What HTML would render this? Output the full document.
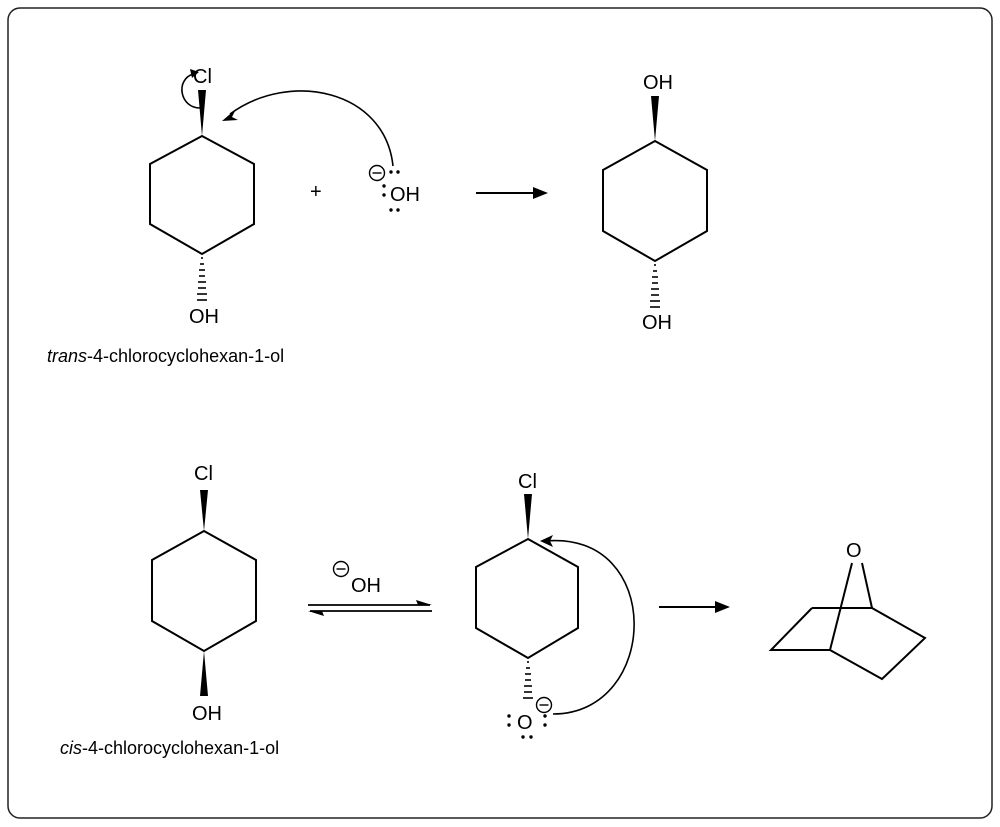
<!DOCTYPE html>
<html><head><style>
html,body{margin:0;padding:0;background:#fff;}
svg{display:block;}
text{font-family:"Liberation Sans",sans-serif;fill:#000;}
</style></head><body>
<svg width="1000" height="827" viewBox="0 0 1000 827">
<rect x="8" y="8" width="984" height="810" rx="12" fill="#fff" stroke="#222" stroke-width="1.5"/>
<g stroke="#000" stroke-width="2" fill="none" stroke-linejoin="miter">
<polygon points="202,136 254,164 254,224 202,254 150,224 150,164"/>
<polygon points="655,141 707,170 707,231 655,261 603,231 603,170"/>
<polygon points="204,531 256,560 256,621 204,651 152,621 152,560"/>
<polygon points="528,539 578,567 578,628 528,658 476,628 476,567"/>
<polyline points="812,608 872,608 925,638 882,679 830,650 771,650 812,608"/>
<line x1="852" y1="563" x2="830" y2="650"/>
<line x1="862" y1="563" x2="872" y2="608"/>
<line x1="476" y1="193" x2="535" y2="193"/>
<line x1="659" y1="607" x2="716" y2="607"/>
<line x1="308" y1="605" x2="430" y2="605" stroke-width="1.8"/>
<line x1="310" y1="611" x2="432" y2="611" stroke-width="1.8"/>
<path d="M393,166 C385,90 290,70 230,114" stroke-width="1.6"/>
<path d="M200,108 C180,108 175,80 193,74" stroke-width="1.6"/>
<path d="M553,714 C660,714 665,530 545,541" stroke-width="1.6"/>
</g>
<g fill="#000">
<polygon points="548,193 533,187 533,199"/>
<polygon points="730,607 715,601 715,613"/>
<polygon points="432,605 416,600 418,605"/>
<polygon points="308,611 324,616 322,611"/>
<polygon points="222,121 236,109 232,117 238,120"/>
<polygon points="199,72 190,69 192,78"/>
<polygon points="540,541 553,535 550,541 553,547"/>
<polygon points="202,136 198,90 206,90"/>
<polygon points="655,141 651,96 659,96"/>
<polygon points="204,531 200,490 208,490"/>
<polygon points="528,539 524,494 532,494"/>
<polygon points="204,651 200,696 208,696"/>
</g>
<g stroke="#000" stroke-width="1.6">
<line x1="201" y1="258" x2="203" y2="258"/><line x1="200" y1="264" x2="204" y2="264"/><line x1="199" y1="270" x2="205" y2="270"/><line x1="199" y1="276" x2="205" y2="276"/><line x1="198" y1="282" x2="206" y2="282"/><line x1="198" y1="288" x2="206" y2="288"/><line x1="197" y1="294" x2="207" y2="294"/><line x1="197" y1="300" x2="207" y2="300"/>
<line x1="654" y1="265" x2="656" y2="265"/><line x1="653" y1="271" x2="657" y2="271"/><line x1="652" y1="277" x2="658" y2="277"/><line x1="652" y1="283" x2="658" y2="283"/><line x1="651" y1="289" x2="659" y2="289"/><line x1="651" y1="295" x2="659" y2="295"/><line x1="650" y1="301" x2="660" y2="301"/><line x1="650" y1="307" x2="660" y2="307"/>
<line x1="527" y1="662" x2="529" y2="662"/><line x1="526" y1="668" x2="530" y2="668"/><line x1="525" y1="674" x2="531" y2="674"/><line x1="525" y1="680" x2="531" y2="680"/><line x1="524" y1="686" x2="532" y2="686"/><line x1="524" y1="692" x2="532" y2="692"/><line x1="523" y1="698" x2="533" y2="698"/>
</g>
<g font-size="20">
<text x="193" y="83">Cl</text>
<text x="189" y="323">OH</text>
<text x="643" y="89">OH</text>
<text x="642" y="329">OH</text>
<text x="310" y="198" font-size="20">+</text>
<text x="390" y="201">OH</text>
<text x="194" y="480">Cl</text>
<text x="192" y="720">OH</text>
<text x="518" y="488">Cl</text>
<text x="517" y="729">O</text>
<text x="846" y="557">O</text>
<text x="351" y="592">OH</text>
</g>
<g font-size="18">
<text x="47" y="362"><tspan font-style="italic">trans</tspan>-4-chlorocyclohexan-1-ol</text>
<text x="60" y="754"><tspan font-style="italic">cis</tspan>-4-chlorocyclohexan-1-ol</text>
</g>
<g stroke="#000" stroke-width="1.4" fill="none">
<circle cx="377" cy="173" r="7.5"/><line x1="372.5" y1="173" x2="381.5" y2="173"/>
<circle cx="341" cy="569" r="7.5"/><line x1="336.5" y1="569" x2="345.5" y2="569"/>
<circle cx="544" cy="705" r="7.5"/><line x1="539.5" y1="705" x2="548.5" y2="705"/>
</g>
<g fill="#000">
<circle cx="391" cy="172" r="1.7"/><circle cx="398" cy="172" r="1.7"/>
<circle cx="384" cy="186" r="1.7"/><circle cx="384" cy="195" r="1.7"/>
<circle cx="391" cy="210" r="1.7"/><circle cx="398" cy="210" r="1.7"/>
<circle cx="509" cy="716" r="1.7"/><circle cx="509" cy="725" r="1.7"/>
<circle cx="545" cy="716" r="1.7"/><circle cx="545" cy="725" r="1.7"/>
<circle cx="523" cy="737" r="1.7"/><circle cx="531" cy="737" r="1.7"/>
</g>
</svg>
</body></html>
